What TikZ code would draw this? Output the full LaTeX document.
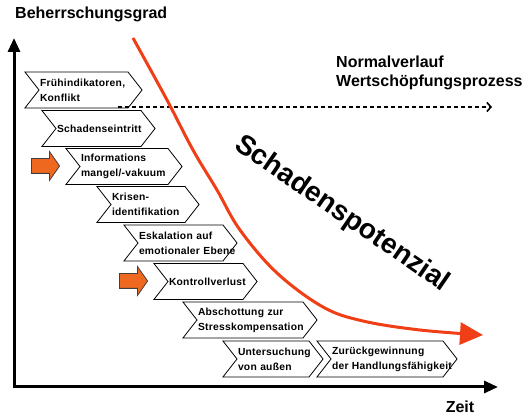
\documentclass[tikz,border=0pt]{standalone}
\usepackage{fontspec}
\setmainfont{Liberation Sans}
\newfontfamily\chevfont{Liberation Sans}[LetterSpace=2.5]
\usepackage{tikz}
\usetikzlibrary{shapes,arrows,arrows.meta}
\usetikzlibrary{shapes.symbols,shapes.arrows}
\usetikzlibrary{positioning}
\definecolor{markorange}{RGB}{238,104,32}
\definecolor{curvered}{RGB}{240,62,22}
\tikzstyle{chevron} = [signal, draw, signal from=west, signal to=east,
signal pointer angle=104, minimum height=36pt, inner xsep=1pt, inner ysep=0pt,
align=left, line width=0.8pt, font=\chevfont\bfseries\fontsize{10.3}{15}\selectfont]
\tikzstyle{marker} = [single arrow, draw=black!75, fill=markorange, line width=0.8pt,
minimum height=28pt, minimum width=23pt, inner sep=7pt, single arrow tip angle=110]
\tikzstyle{axis} = [draw, line width=3pt, {Triangle[length=14pt,width=12pt]}-{Triangle[length=14pt,width=12pt]}]
\tikzstyle{normal} = [draw, line width=2.7pt, dash pattern=on 4pt off 3pt, -{Straight Barb[length=4pt,width=9pt,line width=1.6pt]}]
\tikzstyle{damage} = [draw, curvered, line width=3pt, -{Triangle[length=23pt,width=22pt]}]
\tikzstyle{label} = [font=\bfseries\fontsize{16}{19}\selectfont, inner sep=0pt]

\begin{document}
\begin{tikzpicture}[x=1pt, y=-1pt]
\useasboundingbox (0,0) rectangle (528,419);
% Place nodes
\node [label, anchor=west] (ylab) at (15,14) {Beherrschungsgrad};
\node [label] (xlab) at (460,407) {Zeit};
\node [label, anchor=west, align=left] (norm) at (336,72.5) {Normalverlauf\\Wertschöpfungsprozess};
\node [font=\bfseries\fontsize{28}{30}\selectfont, rotate=-34.5] (pot) at (342,214) {Schadenspotenzial};

\node [chevron, text width=87pt] (c1) at (83.5,90) {\mbox{Frühindikatoren,}\\Konflikt};
\node [chevron, text width=83pt] (c2) at (98.5,128.5) {\mbox{Schadenseintritt}};
\node [chevron, text width=86pt] (c3) at (124,166.5) {Informations\\\mbox{mangel/-vakuum}};
\node [chevron, text width=72pt] (c4) at (148,204.5) {Krisen-\\\mbox{identifikation}};
\node [chevron, text width=83pt] (c5) at (180.5,243) {\mbox{Eskalation auf}\\\mbox{emotionaler Ebene}};
\node [chevron, text width=73pt] (c6) at (205.5,281.5) {\mbox{Kontrollverlust}};
\node [chevron, text width=104pt] (c7) at (250,320) {Abschottung zur\\\mbox{Stresskompensation}};
\node [chevron, text width=70pt] (c8) at (273,359) {\mbox{Untersuchung}\\von außen};
\node [chevron, text width=110pt] (c9) at (387,359) {\mbox{Zurückgewinnung}\\\mbox{der Handlungsfähigkeit}};

\node [marker] (m1) at (43,166) {};
\node [marker] (m2) at (131,281) {};

\coordinate (ytop) at (14,38);
\coordinate (xend) at (498,387);
\coordinate (nstart) at (118,107);
\coordinate (nend) at (492,107);

% Draw edges
\path [axis] (ytop) |- (xend);
\path [normal] (nstart) -- (nend);
\path [damage] plot [smooth, tension=0.6] coordinates {(133,38) (167,100) (193,150) (217,190) (240,230) (277,273) (323,307) (363,321) (420,330) (483,335)};
\end{tikzpicture}
\end{document}
